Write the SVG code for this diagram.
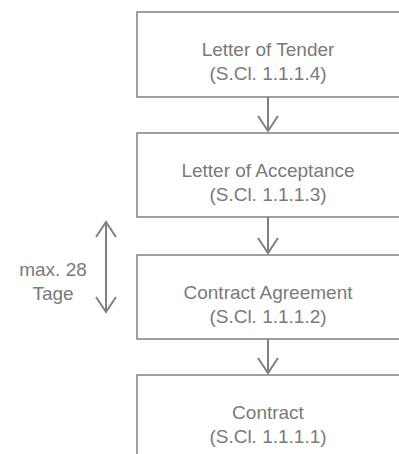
<svg xmlns="http://www.w3.org/2000/svg" width="399" height="454" viewBox="0 0 399 454">
<style>
.box{fill:#fff;stroke:#808080;stroke-width:1.5}
.t{font-family:"Liberation Sans",Arial,sans-serif;font-size:19px;fill:#7a7a7a;text-anchor:middle}
.c{stroke:#808080;stroke-width:2;fill:none}
</style>
<rect width="399" height="454" fill="#fff"/>
<g id="n1"><rect class="box" x="137" y="12" width="280" height="85"/>
<text class="t" x="268" y="56">Letter of Tender</text><text class="t" x="268" y="80">(S.Cl. 1.1.1.4)</text></g>
<g id="n2"><rect class="box" x="137" y="133" width="280" height="84"/>
<text class="t" x="268" y="177">Letter of Acceptance</text><text class="t" x="268" y="201">(S.Cl. 1.1.1.3)</text></g>
<g id="n3"><rect class="box" x="137" y="255" width="280" height="84"/>
<text class="t" x="268" y="299">Contract Agreement</text><text class="t" x="268" y="323">(S.Cl. 1.1.1.2)</text></g>
<g id="n4"><rect class="box" x="137" y="375" width="280" height="100"/>
<text class="t" x="268" y="419">Contract</text><text class="t" x="268" y="443">(S.Cl. 1.1.1.1)</text></g>
<g id="lbl"><text class="t" x="53" y="276">max. 28</text><text class="t" x="53" y="300">Tage</text></g>
<g id="connectors">
<path class="c" d="M268 97V131M258 116L268 131L278 116"/>
<path class="c" d="M268 217V253M258 238L268 253L278 238"/>
<path class="c" d="M268 339V373M258 358L268 373L278 358"/>
<path class="c" d="M106 222V312M96 237L106 222L116 237M96 297L106 312L116 297"/>
</g>
</svg>
